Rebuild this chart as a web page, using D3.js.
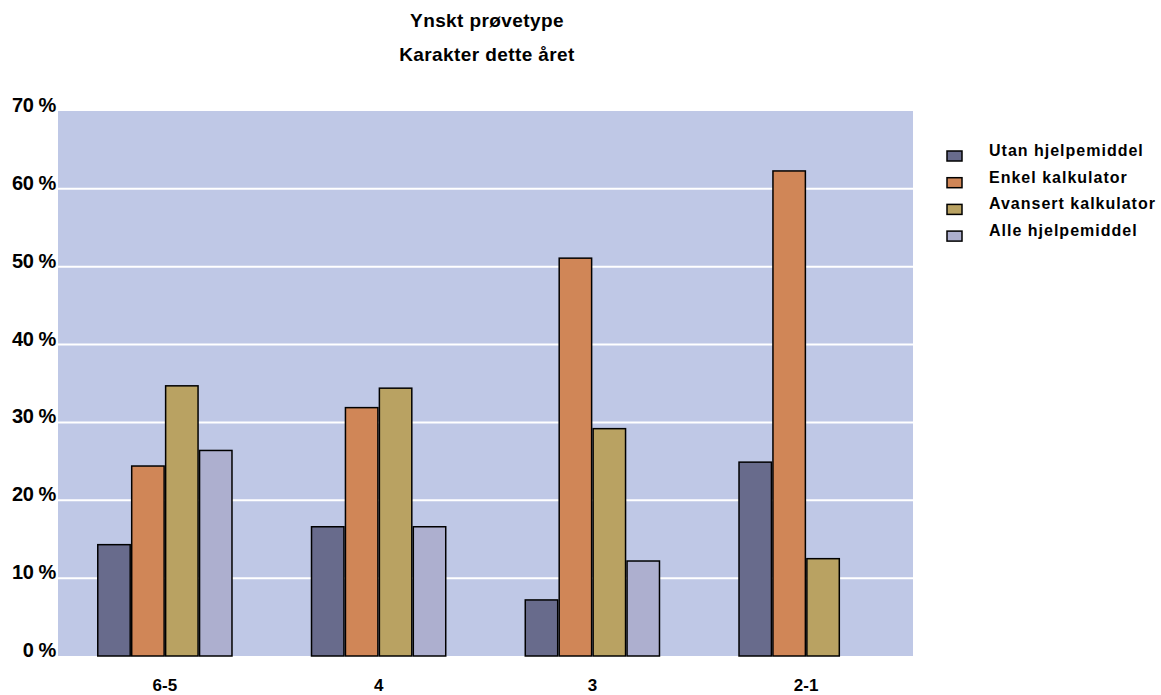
<!DOCTYPE html>
<html>
<head>
<meta charset="utf-8">
<script src="https://cdn.jsdelivr.net/npm/d3@7"></script>
<style>
  html, body { margin: 0; padding: 0; background: #ffffff; }
  svg { display: block; font-family: "Liberation Sans", Arial, sans-serif; }
</style>
</head>
<body>
<svg id="chart" width="1161" height="695"></svg>
<script>
const titleLines = ["Ynskt prøvetype", "Karakter dette året"];
const categories = ["6-5", "4", "3", "2-1"];
const seriesNames = ["Utan hjelpemiddel", "Enkel kalkulator", "Avansert kalkulator", "Alle hjelpemiddel"];
const utanValues = [14.3, 16.6, 7.2, 24.9];
const enkelValues = [24.4, 31.9, 51.1, 62.3];
const avansertValues = [34.7, 34.4, 29.2, 12.5];
const alleValues = [26.4, 16.6, 12.2, null];
const seriesColors = ["#686b8c", "#d08657", "#b9a262", "#adafcf"];
const yTicks = [0, 10, 20, 30, 40, 50, 60, 70];
const yTickLabels = ["0 %", "10 %", "20 %", "30 %", "40 %", "50 %", "60 %", "70 %"];

const seriesValues = [utanValues, enkelValues, avansertValues, alleValues];

const svg = d3.select("#chart");
const plot = { left: 58, right: 913, top: 111, bottom: 656 };

const y = d3.scaleLinear().domain([0, 70]).range([plot.bottom, plot.top]);
const x0 = d3.scaleBand().domain(categories).range([plot.left, plot.right]).padding(0);
const x1 = d3.scaleBand().domain(seriesNames).range([0, x0.bandwidth()]).paddingInner(0).paddingOuter(1.15);

// plot background
svg.append("rect")
  .attr("x", plot.left).attr("y", plot.top)
  .attr("width", plot.right - plot.left).attr("height", plot.bottom - plot.top)
  .attr("fill", "#bfc8e6");

// gridlines
svg.append("g").selectAll("line")
  .data(yTicks.filter(t => t > 0 && t < 70))
  .join("line")
  .attr("x1", plot.left).attr("x2", plot.right)
  .attr("y1", d => y(d)).attr("y2", d => y(d))
  .attr("stroke", "#ffffff").attr("stroke-width", 2);

// y labels
svg.append("g").selectAll("text")
  .data(yTicks)
  .join("text")
  .attr("x", 56).attr("y", d => y(d) + 1)
  .attr("text-anchor", "end")
  .attr("font-size", 20).attr("font-weight", "bold")
  .attr("letter-spacing", -0.4)
  .text((d, i) => yTickLabels[i]);

// bars
const barData = [];
categories.forEach((c, ci) => {
  seriesNames.forEach((s, si) => {
    const v = seriesValues[si][ci];
    if (v != null) barData.push({ cat: c, series: s, value: v, color: seriesColors[si] });
  });
});
svg.append("g").selectAll("rect")
  .data(barData)
  .join("rect")
  .attr("x", d => x0(d.cat) + x1(d.series) + 0.75)
  .attr("width", x1.bandwidth() - 1.5)
  .attr("y", d => y(d.value))
  .attr("height", d => y(0) - y(d.value))
  .attr("fill", d => d.color)
  .attr("stroke", "#000000").attr("stroke-width", 1.5);

// x labels
svg.append("g").selectAll("text")
  .data(categories)
  .join("text")
  .attr("x", d => x0(d) + x0.bandwidth() / 2)
  .attr("y", 691)
  .attr("text-anchor", "middle")
  .attr("font-size", 17).attr("font-weight", "bold")
  .text(d => d);

// title
svg.append("g").selectAll("text")
  .data(titleLines)
  .join("text")
  .attr("x", 487)
  .attr("y", (d, i) => 27 + i * 34)
  .attr("text-anchor", "middle")
  .attr("font-size", 19).attr("font-weight", "bold")
  .attr("letter-spacing", 0.4)
  .text(d => d);

// legend
const legend = svg.append("g");
const rows = legend.selectAll("g")
  .data(seriesNames)
  .join("g")
  .attr("transform", (d, i) => `translate(0, ${i * 26.7})`);
rows.append("rect")
  .attr("x", 947).attr("y", 151)
  .attr("width", 15).attr("height", 10)
  .attr("fill", (d, i) => seriesColors[i])
  .attr("stroke", "#000000").attr("stroke-width", 1.5);
rows.append("text")
  .attr("x", 989).attr("y", 156)
  .attr("font-size", 16).attr("font-weight", "bold")
  .attr("letter-spacing", 1)
  .text(d => d);
</script>
</body>
</html>
